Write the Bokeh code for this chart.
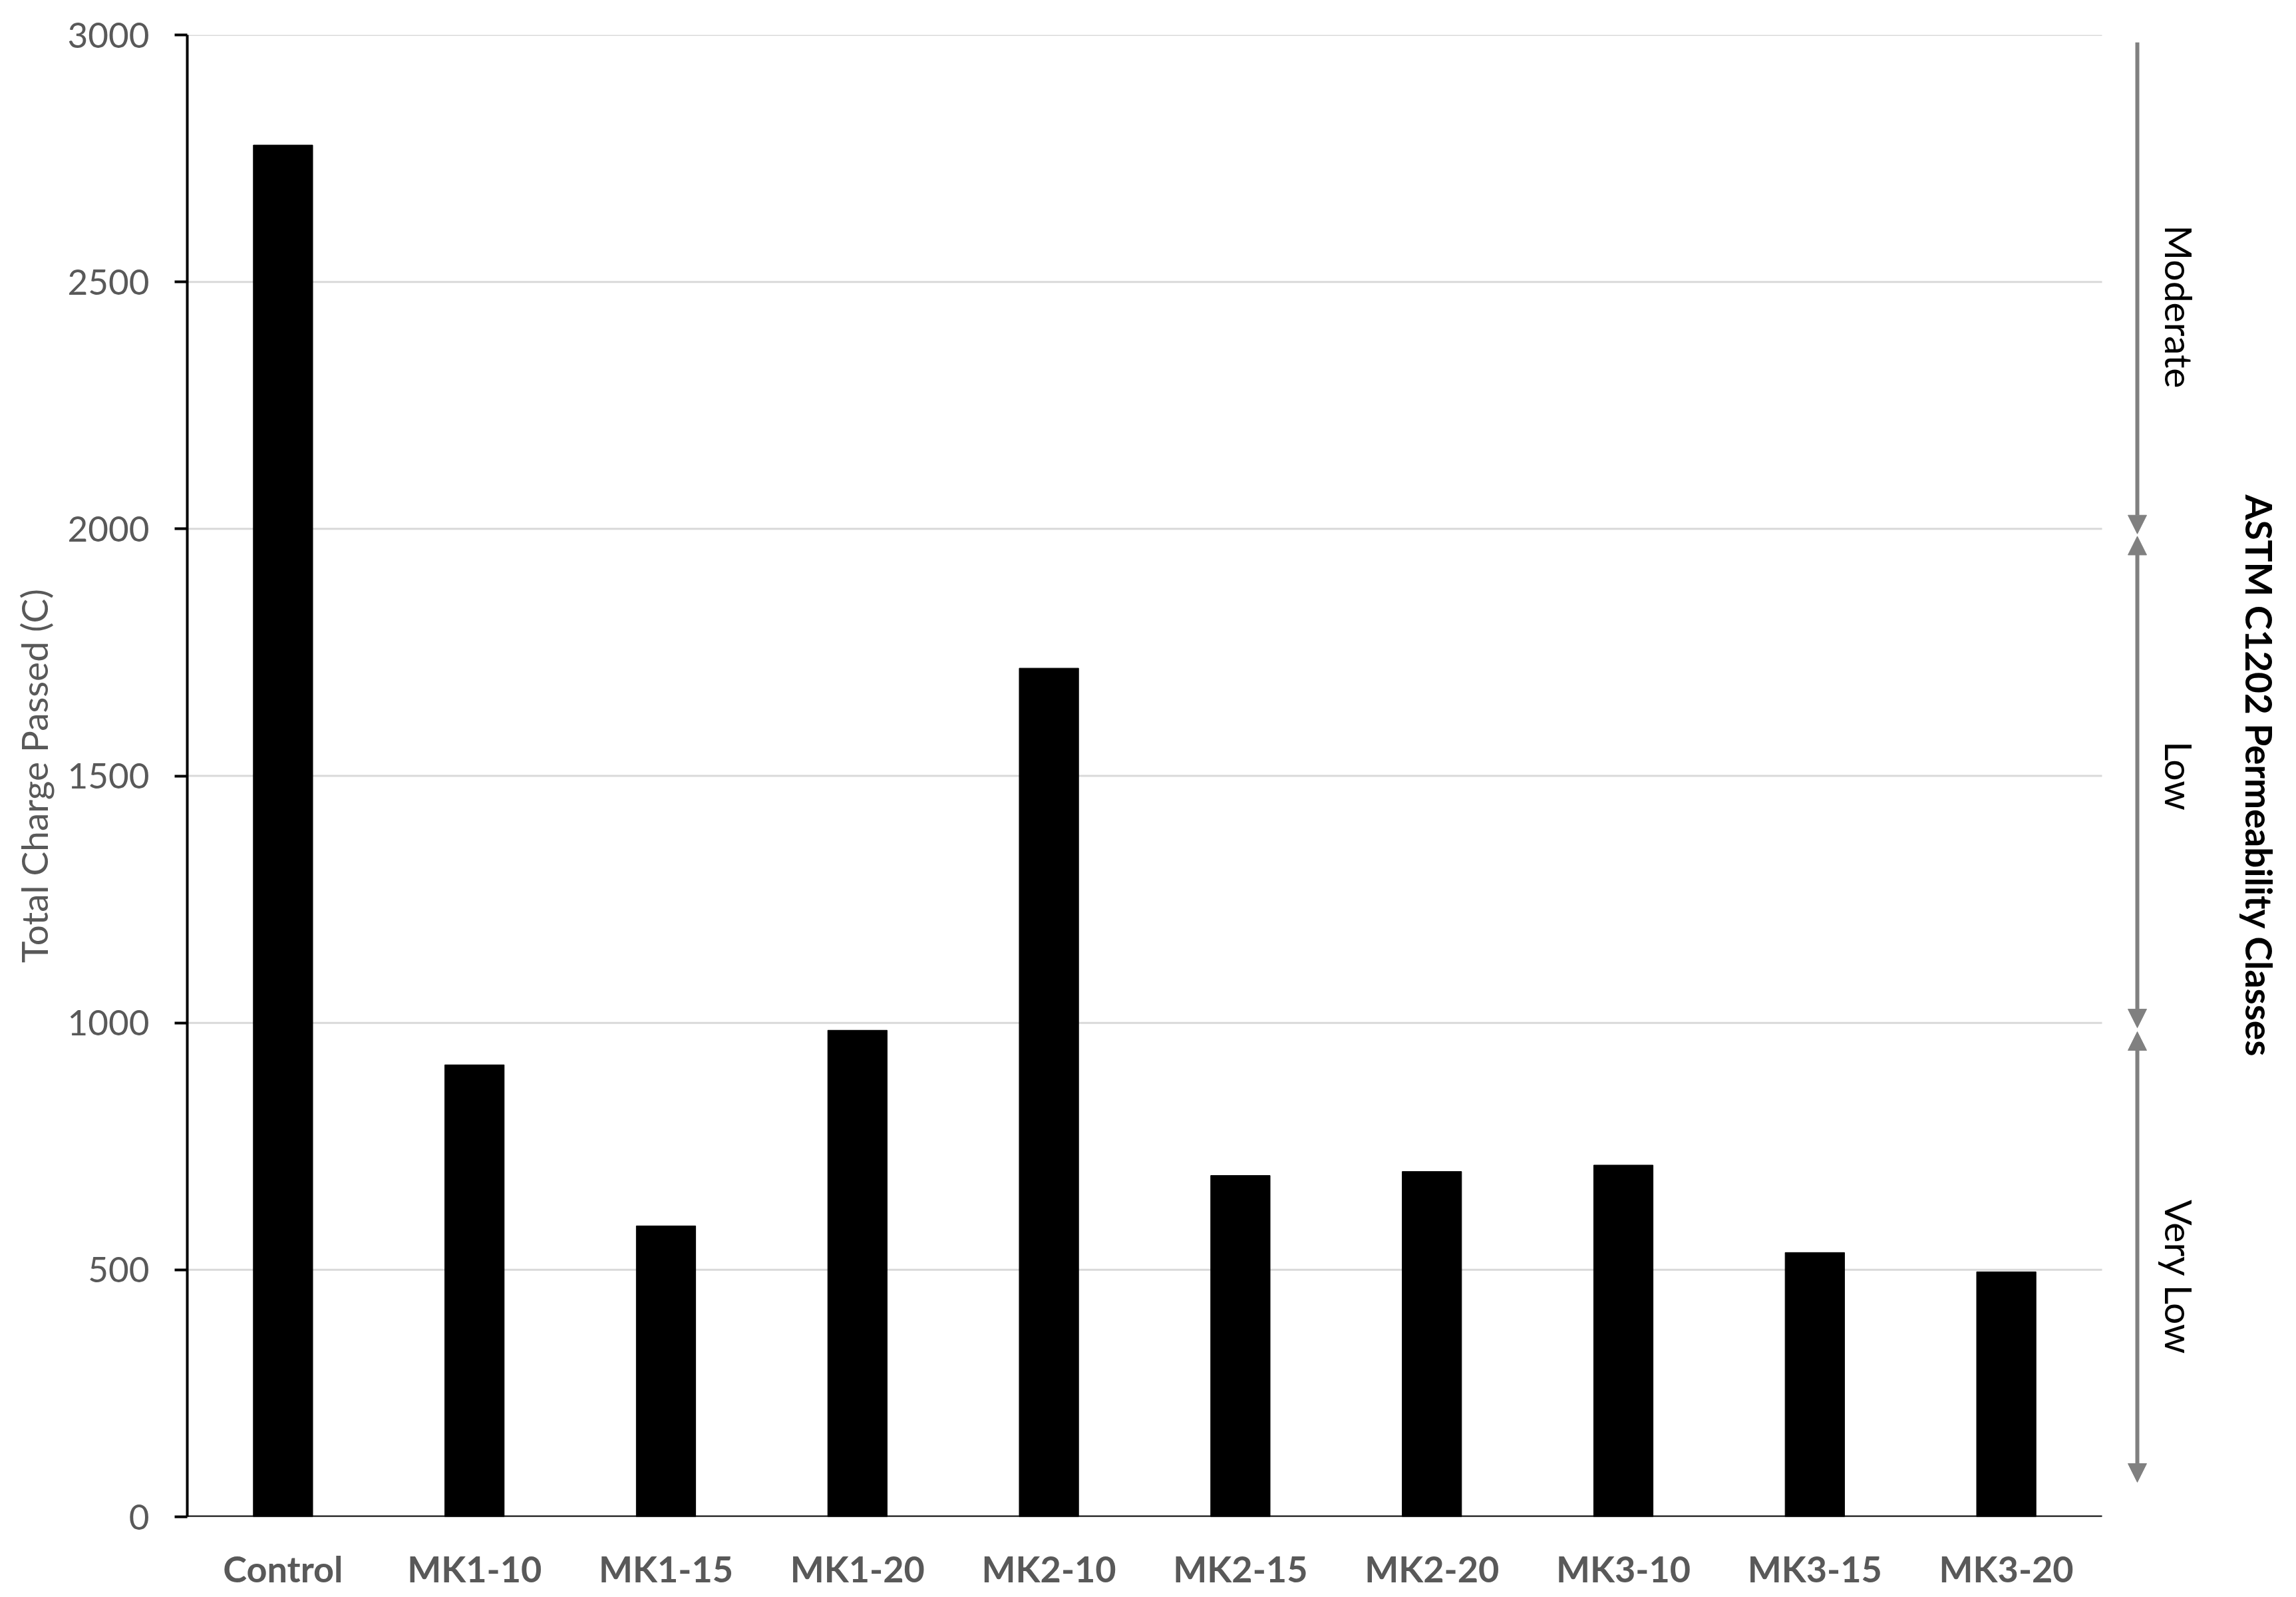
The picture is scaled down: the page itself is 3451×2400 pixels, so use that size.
import math
from bokeh.plotting import figure
from bokeh.models import (Range1d, FixedTicker, Arrow, NormalHead,
                          Label, ColumnDataSource)
from bokeh.embed import file_html
from bokeh.resources import INLINE

# ---------------- data ----------------
categories = ["Control", "MK1-10", "MK1-15", "MK1-20", "MK2-10",
              "MK2-15", "MK2-20", "MK3-10", "MK3-15", "MK3-20"]
charge = [2777, 915, 589, 985, 1718, 691, 699, 712, 535, 496]
y_ticks = [0, 500, 1000, 1500, 2000, 2500, 3000]

class_names = ["Moderate", "Low", "Very Low"]
class_top = [2985, 1985, 982]
class_bottom = [1990, 990, 70]
class_label_y = [2450, 1500, 485]
class_top_head = [False, True, True]

y_title = "Total Charge Passed (C)"
right_title = "ASTM C1202 Permeability Classes"

# ---------------- layout ----------------
CAT_W = 287.8          # pixels per category slot
FRAME_W = 3154         # frame includes the annotation strip on the right
FRAME_H = 2227
FONT = "Lato"
GRAY_TXT = "#595959"
ARROW_C = "#808080"

n_cat = len(categories)
x_pos = list(range(1, n_cat + 1))
x_lo = 0.5
x_hi_plot = n_cat + 0.5
x_end = x_lo + FRAME_W / CAT_W

p = figure(x_range=Range1d(x_lo, x_end),
           y_range=Range1d(y_ticks[0], y_ticks[-1]),
           frame_width=FRAME_W, frame_height=FRAME_H,
           min_border_left=281, min_border_right=0,
           min_border_top=52, min_border_bottom=105,
           output_backend="svg", toolbar_location=None)

def right_of_plot(px):
    return x_hi_plot + px / CAT_W

p.outline_line_color = None
p.background_fill_color = "white"
p.border_fill_color = "white"

# gridlines limited to the plotting area
p.xgrid.grid_line_color = None
p.ygrid.grid_line_color = None
grid_y = y_ticks[1:]
p.segment(x0=[x_lo] * len(grid_y), x1=[x_hi_plot] * len(grid_y),
          y0=grid_y, y1=grid_y, line_color="#d9d9d9", line_width=3)

# bars
src = ColumnDataSource(dict(x=x_pos, val=charge))
p.vbar(x="x", top="val", width=0.31, bottom=0, source=src,
       fill_color="black", line_color="black", line_width=1)

# x axis baseline limited to the plotting area
p.segment(x0=[x_lo], x1=[x_hi_plot], y0=[0], y1=[0],
          line_color="black", line_width=4)

# y axis
ya = p.yaxis[0]
ya.ticker = FixedTicker(ticks=y_ticks)
ya.axis_line_color = "black"
ya.axis_line_width = 4
ya.major_tick_line_color = "black"
ya.major_tick_line_width = 4
ya.major_tick_out = 19
ya.major_tick_in = 0
ya.minor_tick_line_color = None
ya.major_label_text_font = FONT
ya.major_label_text_font_size = "53px"
ya.major_label_text_color = GRAY_TXT
ya.major_label_standoff = 38
ya.axis_label = y_title
ya.axis_label_text_font = FONT
ya.axis_label_text_font_size = "55px"
ya.axis_label_text_font_style = "normal"
ya.axis_label_text_color = GRAY_TXT
ya.axis_label_standoff = 15

# x axis (category labels)
xa = p.xaxis[0]
xa.ticker = FixedTicker(ticks=x_pos)
xa.major_label_overrides = {x: c for x, c in zip(x_pos, categories)}
xa.axis_line_color = None
xa.major_tick_line_color = None
xa.minor_tick_line_color = None
xa.major_tick_out = 0
xa.major_tick_in = 0
xa.major_label_text_font = FONT
xa.major_label_text_font_size = "54px"
xa.major_label_text_font_style = "bold"
xa.major_label_text_color = GRAY_TXT
xa.major_label_standoff = 45

# permeability class arrows and labels (right strip)
ARROW_X = right_of_plot(53)
LABEL_X = right_of_plot(116)
TITLE_X = right_of_plot(236)

for name, top, bot, ly, has_top in zip(class_names, class_top, class_bottom,
                                       class_label_y, class_top_head):
    start = NormalHead(size=28, fill_color=ARROW_C, line_color=ARROW_C,
                       line_width=1) if has_top else None
    end = NormalHead(size=28, fill_color=ARROW_C, line_color=ARROW_C,
                     line_width=1)
    p.add_layout(Arrow(x_start=ARROW_X, y_start=top, x_end=ARROW_X, y_end=bot,
                       start=start, end=end,
                       line_color=ARROW_C, line_width=6))
    p.add_layout(Label(x=LABEL_X, y=ly, text=name,
                       angle=-math.pi / 2, text_align="center",
                       text_baseline="middle", text_font=FONT,
                       text_font_size="57px", text_color="black"))

p.add_layout(Label(x=TITLE_X, y=(y_ticks[0] + y_ticks[-1]) / 2,
                   text=right_title,
                   angle=-math.pi / 2, text_align="center",
                   text_baseline="middle", text_font=FONT,
                   text_font_size="55px", text_font_style="bold",
                   text_color="black"))

open("out.html", "w").write(file_html(p, INLINE))
